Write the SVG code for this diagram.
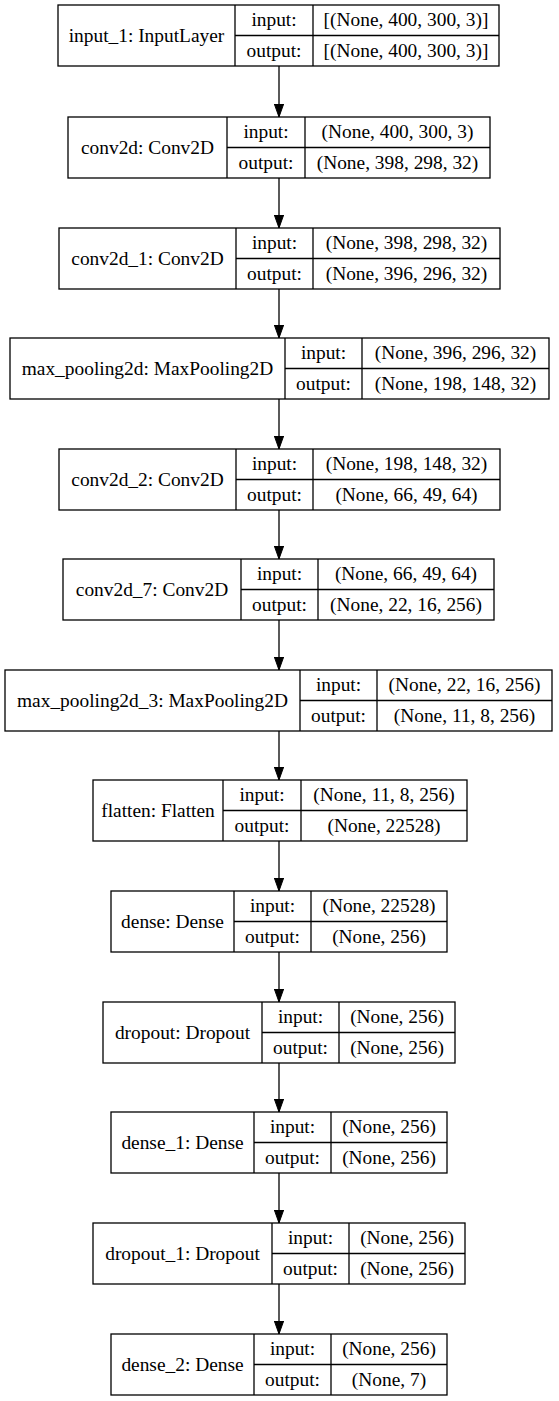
<svg xmlns="http://www.w3.org/2000/svg" width="559" height="1401" viewBox="0 0 559 1401">
<style>
rect.b{fill:#fff;stroke:#000;stroke-width:1.3}
line.d{stroke:#000;stroke-width:1.3}
text{font-family:"Liberation Serif","Times New Roman",serif;font-size:19.4px;fill:#000;text-anchor:middle}
.e{stroke:#000;stroke-width:1.3;fill:none}
</style>
<defs>
<marker id="ah" markerUnits="userSpaceOnUse" markerWidth="14" markerHeight="10" refX="13" refY="4.65" orient="auto">
<path d="M0,0 L13,4.65 L0,9.3 z" fill="#000" stroke="#000" stroke-width="1"/>
</marker>
</defs>
<rect width="559" height="1401" fill="#fff"/>
<g id="connectors">
<line class="e" x1="279" y1="66" x2="279" y2="117" marker-end="url(#ah)"/>
<line class="e" x1="279" y1="178" x2="279" y2="228" marker-end="url(#ah)"/>
<line class="e" x1="279" y1="289" x2="279" y2="338" marker-end="url(#ah)"/>
<line class="e" x1="279" y1="399" x2="279" y2="449" marker-end="url(#ah)"/>
<line class="e" x1="279" y1="510" x2="279" y2="559" marker-end="url(#ah)"/>
<line class="e" x1="279" y1="620" x2="279" y2="670" marker-end="url(#ah)"/>
<line class="e" x1="279" y1="731" x2="279" y2="780" marker-end="url(#ah)"/>
<line class="e" x1="279" y1="841" x2="279" y2="891" marker-end="url(#ah)"/>
<line class="e" x1="279" y1="952" x2="279" y2="1002" marker-end="url(#ah)"/>
<line class="e" x1="279" y1="1063" x2="279" y2="1112" marker-end="url(#ah)"/>
<line class="e" x1="279" y1="1173" x2="279" y2="1223" marker-end="url(#ah)"/>
<line class="e" x1="279" y1="1284" x2="279" y2="1334" marker-end="url(#ah)"/>
</g>
<g id="input_1">
<rect class="b" x="58" y="5" width="441" height="61"/>
<line class="d" x1="235" y1="5" x2="235" y2="66"/><line class="d" x1="313" y1="5" x2="313" y2="66"/><line class="d" x1="235" y1="35.5" x2="499" y2="35.5"/>
<text x="146.5" y="41.5">input_1: InputLayer</text>
<text x="274" y="26">input:</text><text x="274" y="57">output:</text>
<text x="406" y="26">[(None, 400, 300, 3)]</text><text x="406" y="57">[(None, 400, 300, 3)]</text>
</g>
<g id="conv2d">
<rect class="b" x="68" y="117" width="422" height="61"/>
<line class="d" x1="227" y1="117" x2="227" y2="178"/><line class="d" x1="305" y1="117" x2="305" y2="178"/><line class="d" x1="227" y1="147.5" x2="490" y2="147.5"/>
<text x="147.5" y="153.5">conv2d: Conv2D</text>
<text x="266" y="138">input:</text><text x="266" y="169">output:</text>
<text x="397.5" y="138">(None, 400, 300, 3)</text><text x="397.5" y="169">(None, 398, 298, 32)</text>
</g>
<g id="conv2d_1">
<rect class="b" x="59" y="228" width="441" height="61"/>
<line class="d" x1="236" y1="228" x2="236" y2="289"/><line class="d" x1="313" y1="228" x2="313" y2="289"/><line class="d" x1="236" y1="258.5" x2="500" y2="258.5"/>
<text x="147.5" y="264.5">conv2d_1: Conv2D</text>
<text x="274.5" y="249">input:</text><text x="274.5" y="280">output:</text>
<text x="406.5" y="249">(None, 398, 298, 32)</text><text x="406.5" y="280">(None, 396, 296, 32)</text>
</g>
<g id="max_pooling2d">
<rect class="b" x="10" y="338" width="539" height="61"/>
<line class="d" x1="285" y1="338" x2="285" y2="399"/><line class="d" x1="362" y1="338" x2="362" y2="399"/><line class="d" x1="285" y1="368.5" x2="549" y2="368.5"/>
<text x="147.5" y="374.5">max_pooling2d: MaxPooling2D</text>
<text x="323.5" y="359">input:</text><text x="323.5" y="390">output:</text>
<text x="455.5" y="359">(None, 396, 296, 32)</text><text x="455.5" y="390">(None, 198, 148, 32)</text>
</g>
<g id="conv2d_2">
<rect class="b" x="59" y="449" width="441" height="61"/>
<line class="d" x1="236" y1="449" x2="236" y2="510"/><line class="d" x1="313" y1="449" x2="313" y2="510"/><line class="d" x1="236" y1="479.5" x2="500" y2="479.5"/>
<text x="147.5" y="485.5">conv2d_2: Conv2D</text>
<text x="274.5" y="470">input:</text><text x="274.5" y="501">output:</text>
<text x="406.5" y="470">(None, 198, 148, 32)</text><text x="406.5" y="501">(None, 66, 49, 64)</text>
</g>
<g id="conv2d_7">
<rect class="b" x="63" y="559" width="431" height="61"/>
<line class="d" x1="241" y1="559" x2="241" y2="620"/><line class="d" x1="318" y1="559" x2="318" y2="620"/><line class="d" x1="241" y1="589.5" x2="494" y2="589.5"/>
<text x="152" y="595.5">conv2d_7: Conv2D</text>
<text x="279.5" y="580">input:</text><text x="279.5" y="611">output:</text>
<text x="406" y="580">(None, 66, 49, 64)</text><text x="406" y="611">(None, 22, 16, 256)</text>
</g>
<g id="max_pooling2d_3">
<rect class="b" x="5" y="670" width="547" height="61"/>
<line class="d" x1="300" y1="670" x2="300" y2="731"/><line class="d" x1="377" y1="670" x2="377" y2="731"/><line class="d" x1="300" y1="700.5" x2="552" y2="700.5"/>
<text x="152.5" y="706.5">max_pooling2d_3: MaxPooling2D</text>
<text x="338.5" y="691">input:</text><text x="338.5" y="722">output:</text>
<text x="464.5" y="691">(None, 22, 16, 256)</text><text x="464.5" y="722">(None, 11, 8, 256)</text>
</g>
<g id="flatten">
<rect class="b" x="93" y="780" width="374" height="61"/>
<line class="d" x1="223" y1="780" x2="223" y2="841"/><line class="d" x1="301" y1="780" x2="301" y2="841"/><line class="d" x1="223" y1="810.5" x2="467" y2="810.5"/>
<text x="158" y="816.5">flatten: Flatten</text>
<text x="262" y="801">input:</text><text x="262" y="832">output:</text>
<text x="384" y="801">(None, 11, 8, 256)</text><text x="384" y="832">(None, 22528)</text>
</g>
<g id="dense">
<rect class="b" x="111" y="891" width="336" height="61"/>
<line class="d" x1="234" y1="891" x2="234" y2="952"/><line class="d" x1="311" y1="891" x2="311" y2="952"/><line class="d" x1="234" y1="921.5" x2="447" y2="921.5"/>
<text x="172.5" y="927.5">dense: Dense</text>
<text x="272.5" y="912">input:</text><text x="272.5" y="943">output:</text>
<text x="379" y="912">(None, 22528)</text><text x="379" y="943">(None, 256)</text>
</g>
<g id="dropout">
<rect class="b" x="103" y="1002" width="352" height="61"/>
<line class="d" x1="262" y1="1002" x2="262" y2="1063"/><line class="d" x1="339" y1="1002" x2="339" y2="1063"/><line class="d" x1="262" y1="1032.5" x2="455" y2="1032.5"/>
<text x="182.5" y="1038.5">dropout: Dropout</text>
<text x="300.5" y="1023">input:</text><text x="300.5" y="1054">output:</text>
<text x="397" y="1023">(None, 256)</text><text x="397" y="1054">(None, 256)</text>
</g>
<g id="dense_1">
<rect class="b" x="111" y="1112" width="336" height="61"/>
<line class="d" x1="254" y1="1112" x2="254" y2="1173"/><line class="d" x1="331" y1="1112" x2="331" y2="1173"/><line class="d" x1="254" y1="1142.5" x2="447" y2="1142.5"/>
<text x="182.5" y="1148.5">dense_1: Dense</text>
<text x="292.5" y="1133">input:</text><text x="292.5" y="1164">output:</text>
<text x="389" y="1133">(None, 256)</text><text x="389" y="1164">(None, 256)</text>
</g>
<g id="dropout_1">
<rect class="b" x="93" y="1223" width="372" height="61"/>
<line class="d" x1="272" y1="1223" x2="272" y2="1284"/><line class="d" x1="349" y1="1223" x2="349" y2="1284"/><line class="d" x1="272" y1="1253.5" x2="465" y2="1253.5"/>
<text x="182.5" y="1259.5">dropout_1: Dropout</text>
<text x="310.5" y="1244">input:</text><text x="310.5" y="1275">output:</text>
<text x="407" y="1244">(None, 256)</text><text x="407" y="1275">(None, 256)</text>
</g>
<g id="dense_2">
<rect class="b" x="111" y="1334" width="336" height="61"/>
<line class="d" x1="254" y1="1334" x2="254" y2="1395"/><line class="d" x1="331" y1="1334" x2="331" y2="1395"/><line class="d" x1="254" y1="1364.5" x2="447" y2="1364.5"/>
<text x="182.5" y="1370.5">dense_2: Dense</text>
<text x="292.5" y="1355">input:</text><text x="292.5" y="1386">output:</text>
<text x="389" y="1355">(None, 256)</text><text x="389" y="1386">(None, 7)</text>
</g>
</svg>
